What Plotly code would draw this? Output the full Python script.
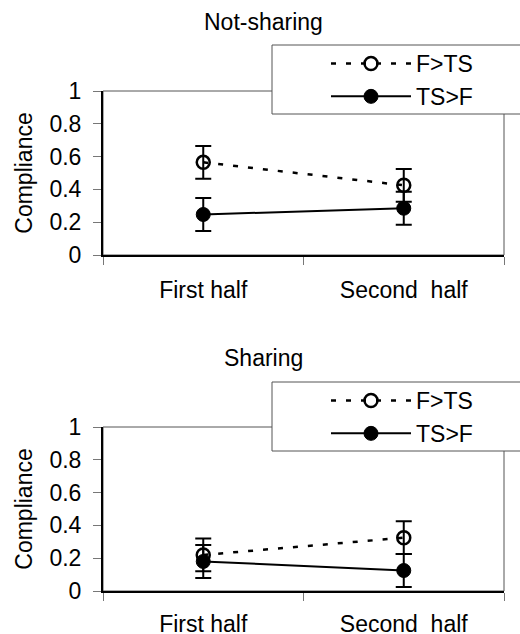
import plotly.graph_objects as go

# ---- data ----
categories = ["First half", "Second\u00a0 half"]
panel_titles = ["Not-sharing", "Sharing"]
series_names = ["F>TS", "TS>F"]

notsharing_f_ts = [0.565, 0.425]
notsharing_f_ts_err = [0.1, 0.1]
notsharing_ts_f = [0.247, 0.285]
notsharing_ts_f_err = [0.1, 0.1]

sharing_f_ts = [0.22, 0.325]
sharing_f_ts_err = [0.1, 0.1]
sharing_ts_f = [0.18, 0.125]
sharing_ts_f_err = [0.1, 0.1]

y_tickvals = [0, 0.2, 0.4, 0.6, 0.8, 1]
y_ticktext = ["0", "0.2", "0.4", "0.6", "0.8", "1"]

W, H = 520, 634
FONT = "Liberation Sans, Arial, sans-serif"
FS = 23

fig = go.Figure()

panels = [
    (notsharing_f_ts, notsharing_f_ts_err, notsharing_ts_f, notsharing_ts_f_err, "x", "y", "legend"),
    (sharing_f_ts, sharing_f_ts_err, sharing_ts_f, sharing_ts_f_err, "x2", "y2", "legend2"),
]

for f_ts, f_err, ts_f, ts_err, xa, ya, lg in panels:
    fig.add_trace(go.Scatter(
        x=categories, y=f_ts, name=series_names[0], xaxis=xa, yaxis=ya, legend=lg,
        mode="lines+markers",
        line=dict(color="black", width=2.5, dash="5px,10px"),
        marker=dict(symbol="circle-open", size=13, color="black", line=dict(color="black", width=2.5)),
        error_y=dict(type="data", array=f_err, color="black", thickness=2, width=8),
    ))
    fig.add_trace(go.Scatter(
        x=categories, y=ts_f, name=series_names[1], xaxis=xa, yaxis=ya, legend=lg,
        mode="lines+markers",
        line=dict(color="black", width=2),
        marker=dict(symbol="circle", size=14, color="black", line=dict(color="black", width=1)),
        error_y=dict(type="data", array=ts_err, color="black", thickness=2, width=8),
    ))

xdom = [103 / W, 504 / W]
top_dom = [1 - 255 / H, 1 - 91 / H]
bot_dom = [1 - 591 / H, 1 - 427 / H]

def xaxis_cfg(anchor, standoff):
    return dict(
        domain=xdom, anchor=anchor, type="category", range=[-0.5, 1.5],
        tickson="boundaries", ticks="outside", ticklen=8, tickwidth=1, tickcolor="#777",
        showline=True, linecolor="black", linewidth=1.5, showgrid=False, zeroline=False,
        tickfont=dict(family=FONT, size=FS, color="black"), ticklabelstandoff=standoff,
        fixedrange=True,
    )

def yaxis_cfg(dom, anchor):
    return dict(
        domain=dom, anchor=anchor, range=[0, 1], tickvals=y_tickvals, ticktext=y_ticktext,
        ticks="outside", ticklen=8, tickwidth=1, tickcolor="#777",
        showline=True, linecolor="black", linewidth=2, showgrid=False, zeroline=False,
        tickfont=dict(family=FONT, size=FS, color="black"), ticklabelstandoff=7,
        title=dict(text="Compliance", font=dict(family=FONT, size=FS, color="black"), standoff=10),
        fixedrange=True,
    )

legend_cfg = dict(
    xanchor="left", yanchor="top", x=272 / W,
    bgcolor="rgba(0,0,0,0)", borderwidth=0,
    font=dict(family=FONT, size=FS, color="black"),
    itemwidth=80, indentation=54, tracegroupgap=0,
)

fig.update_layout(
    width=W, height=H, margin=dict(l=0, r=0, t=0, b=0, autoexpand=False),
    paper_bgcolor="white", plot_bgcolor="white",
    showlegend=True,
    xaxis=xaxis_cfg("y", 14), yaxis=yaxis_cfg(top_dom, "x"),
    xaxis2=xaxis_cfg("y2", 12), yaxis2=yaxis_cfg(bot_dom, "x2"),
    legend=dict(legend_cfg, y=1 - 42 / H),
    legend2=dict(legend_cfg, y=1 - 379 / H),
)

# plot-area frames (thin grey box)
for xr, yr in [("x domain", "y domain"), ("x2 domain", "y2 domain")]:
    fig.add_shape(type="rect", xref=xr, yref=yr, x0=0, x1=1, y0=0, y1=1,
                  line=dict(color="#555", width=1), layer="below")

# legend boxes (extend past the right edge, as in the original)
for top_px in [45, 382]:
    fig.add_shape(type="rect", xref="paper", yref="paper",
                  x0=272 / W, x1=530 / W, y0=1 - (top_px + 69) / H, y1=1 - top_px / H,
                  line=dict(color="#555", width=1), fillcolor="white", layer="above")

# panel titles
for title, ypx in zip(panel_titles, [22, 358]):
    fig.add_annotation(text=title, xref="paper", yref="paper", x=263 / W, y=1 - ypx / H,
                       showarrow=False, xanchor="center", yanchor="middle",
                       font=dict(family=FONT, size=FS, color="black"))

fig.write_html("out.html",
               config={"displayModeBar": False, "staticPlot": True},
               post_script="document.body.style.margin='0';document.body.style.overflow='hidden';")
